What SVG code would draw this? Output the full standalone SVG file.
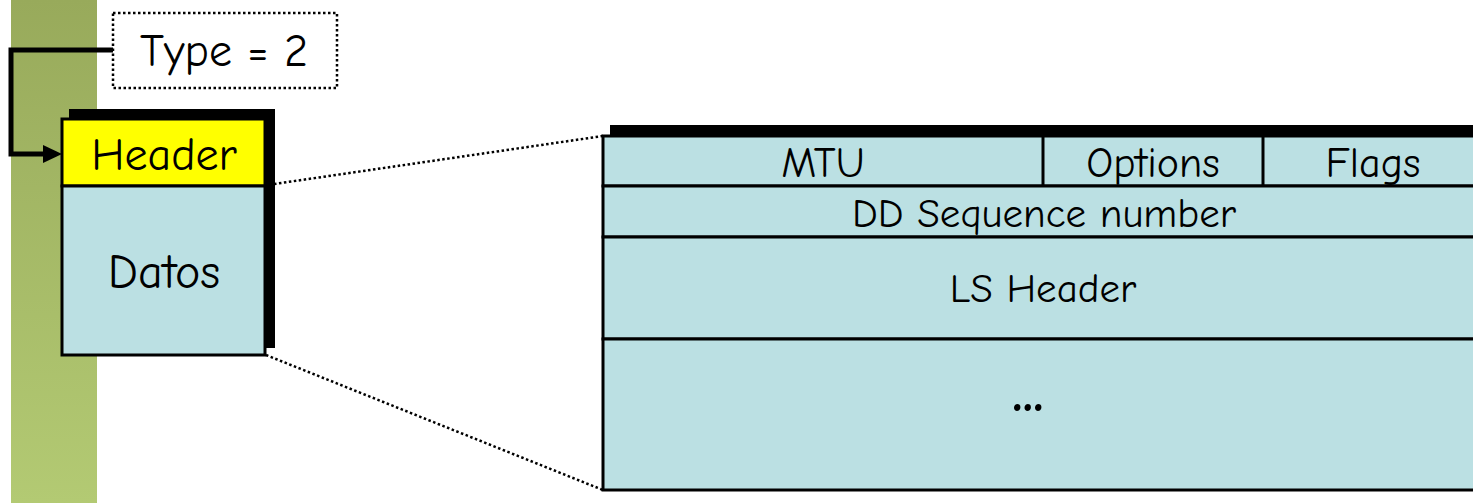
<svg xmlns="http://www.w3.org/2000/svg" width="1473" height="503" viewBox="0 0 1473 503">
<defs>
<linearGradient id="bar" x1="0" y1="0" x2="0" y2="1">
<stop offset="0" stop-color="#98aa5b"/>
<stop offset="1" stop-color="#b3ca73"/>
</linearGradient>
<style>
.t{font-family:"Comic Neue","Liberation Sans",sans-serif;fill:#000;text-anchor:middle}
.cell{fill:#bbe0e3;stroke:#000;stroke-width:3}
.dot{fill:none;stroke:#000;stroke-width:2.5;stroke-dasharray:2.5 2.5}
</style>
</defs>
<rect x="11" y="0" width="86" height="503" fill="url(#bar)"/>
<g id="connectors">
<polyline points="113,50 11,50 11,154 46,154" fill="none" stroke="#000" stroke-width="5" stroke-linejoin="miter"/>
<polygon points="43,145 62,154 43,163" fill="#000"/>
<line class="dot" x1="274" y1="184" x2="603" y2="136"/>
<line class="dot" x1="266" y1="355" x2="603" y2="490"/>
</g>
<g id="type">
<rect x="113" y="13" width="224" height="75" fill="#fff" stroke="#000" stroke-width="2.5" stroke-dasharray="2.5 2.5"/>
<text class="t" x="224" y="66" font-size="46">Type = 2</text>
</g>
<g id="packet">
<rect x="69" y="109" width="206" height="239" fill="#000"/>
<rect x="62" y="119" width="203" height="67" fill="#ffff00" stroke="#000" stroke-width="3"/>
<rect x="62" y="186" width="203" height="169" class="cell"/>
<text class="t" x="164" y="170" font-size="46">Header</text>
<text class="t" x="164" y="288" font-size="48">Datos</text>
</g>
<g id="detail">
<rect x="610" y="125" width="870" height="14" fill="#000"/>
<rect x="603" y="136" width="880" height="50" class="cell"/>
<line x1="1043" y1="136" x2="1043" y2="186" stroke="#000" stroke-width="3"/>
<line x1="1263" y1="136" x2="1263" y2="186" stroke="#000" stroke-width="3"/>
<rect x="603" y="186" width="880" height="51" class="cell"/>
<rect x="603" y="237" width="880" height="102" class="cell"/>
<rect x="603" y="339" width="880" height="151" class="cell"/>
<text class="t" x="823" y="177" font-size="42">MTU</text>
<text class="t" x="1153" y="177" font-size="42">Options</text>
<text class="t" x="1373" y="177" font-size="42">Flags</text>
<text class="t" x="1044" y="227" font-size="41">DD Sequence number</text>
<text class="t" x="1043" y="302" font-size="41">LS Header</text>
<text class="t" x="1028" y="411" font-size="58" font-weight="bold">...</text>
</g>
</svg>
